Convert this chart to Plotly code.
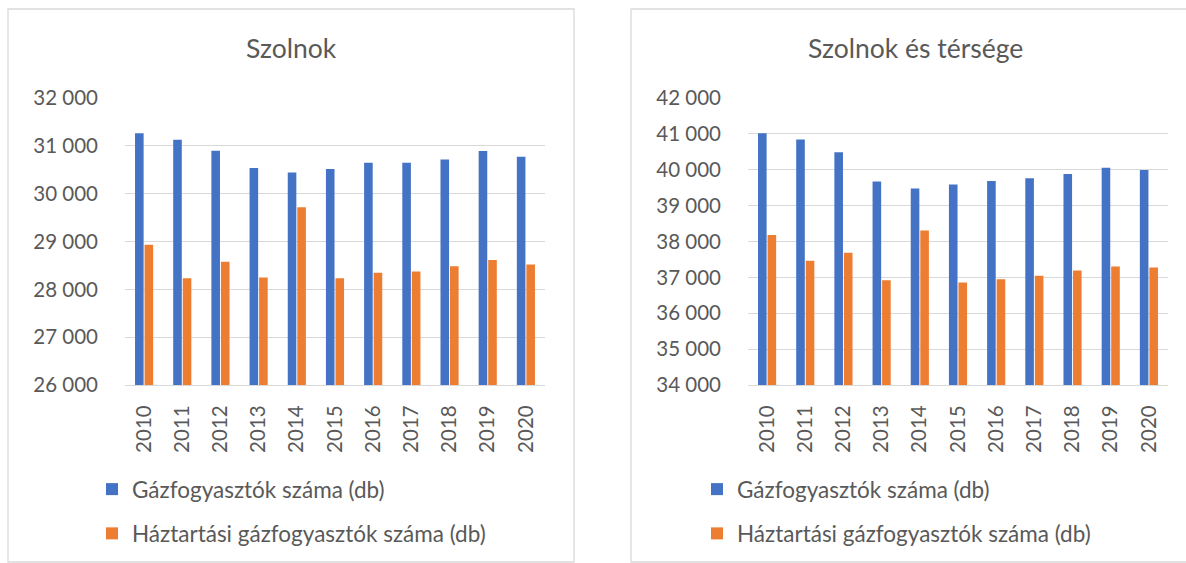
import plotly.graph_objects as go

W, H = 1186, 563

years = [str(y) for y in range(2010, 2021)]

# Szolnok
szolnok_total = [31265, 31125, 30895, 30535, 30440, 30515, 30645, 30645, 30715, 30890, 30770]
szolnok_household = [28930, 28230, 28575, 28245, 29715, 28230, 28345, 28375, 28480, 28615, 28520]

# Szolnok és térsége
region_total = [41015, 40840, 40485, 39675, 39480, 39590, 39685, 39760, 39880, 40055, 39990]
region_household = [38180, 37460, 37685, 36920, 38310, 36855, 36950, 37045, 37190, 37300, 37275]

series_names = ["Gázfogyasztók száma (db)", "Háztartási gázfogyasztók száma (db)"]
BLUE = "#4472C4"
ORANGE = "#ED7D31"
TEXT = "#595959"
GRID = "#D9D9D9"
FONT = "Lato, 'Open Sans', sans-serif"


def px_x(v):
    return v / W


def px_y(v):
    return 1 - v / H


fig = go.Figure()

for xa, ya, leg, total, house in [
    ("x", "y", "legend", szolnok_total, szolnok_household),
    ("x2", "y2", "legend2", region_total, region_household),
]:
    for i, (vals, col) in enumerate([(total, BLUE), (house, ORANGE)]):
        fig.add_trace(go.Bar(
            x=years, y=vals, name=series_names[i],
            marker=dict(color=col, line=dict(width=0)),
            xaxis=xa, yaxis=ya, legend=leg,
            legendgroup=f"{leg}-{i}",
        ))

axis_font = dict(family=FONT, size=20.5, color=TEXT)

xaxis_common = dict(
    type="category", tickangle=-90, tickfont=axis_font,
    showgrid=False, showline=True, linecolor=GRID, linewidth=1.3,
    ticks="", ticklabelstandoff=11, fixedrange=True, automargin=False,
)
yaxis_common = dict(
    tickfont=axis_font, showgrid=True, gridcolor=GRID, gridwidth=1.3,
    zeroline=False, showline=False, dtick=1000, tickformat=",d",
    ticks="", ticklabelstandoff=26, fixedrange=True, automargin=False,
)

ydom = [px_y(385), px_y(98)]

legend_common = dict(
    orientation="v", font=dict(family=FONT, size=22.5, color=TEXT),
    bgcolor="rgba(0,0,0,0)", tracegroupgap=12, itemwidth=30,
    xanchor="left", yanchor="top", traceorder="grouped",
)

fig.update_layout(
    template="none",
    width=W, height=H, autosize=False,
    margin=dict(l=0, r=0, t=0, b=0, pad=0, autoexpand=False),
    paper_bgcolor="white", plot_bgcolor="white",
    separators=", ",
    barmode="group", bargap=0.5, bargroupgap=0.1,
    showlegend=True,
    xaxis=dict(domain=[px_x(125), px_x(545)], anchor="y", **xaxis_common),
    yaxis=dict(domain=ydom, anchor="x", range=[26000, 32000], **yaxis_common),
    xaxis2=dict(domain=[px_x(748), px_x(1168)], anchor="y2", **xaxis_common),
    yaxis2=dict(domain=ydom, anchor="x2", range=[34000, 42000], **yaxis_common),
    legend=dict(x=px_x(92), y=px_y(468), **legend_common),
    legend2=dict(x=px_x(697), y=px_y(468), **legend_common),
    shapes=[
        dict(type="rect", xref="paper", yref="paper",
             x0=px_x(8), x1=px_x(574), y0=px_y(562), y1=px_y(9),
             line=dict(color=GRID, width=1.3), fillcolor="rgba(0,0,0,0)", layer="below"),
        dict(type="rect", xref="paper", yref="paper",
             x0=px_x(631), x1=px_x(1199), y0=px_y(562), y1=px_y(9),
             line=dict(color=GRID, width=1.3), fillcolor="rgba(0,0,0,0)", layer="below"),
    ],
    annotations=[
        dict(text="Szolnok", xref="paper", yref="paper",
             x=px_x(291), y=px_y(48), xanchor="center", yanchor="middle",
             showarrow=False, font=dict(family=FONT, size=26.5, color=TEXT)),
        dict(text="Szolnok és térsége", xref="paper", yref="paper",
             x=px_x(915), y=px_y(48), xanchor="center", yanchor="middle",
             showarrow=False, font=dict(family=FONT, size=26.5, color=TEXT)),
    ],
)

fig.write_html(
    "out.html",
    config={"responsive": False, "displayModeBar": False},
    post_script="document.body.style.margin='0';",
)
